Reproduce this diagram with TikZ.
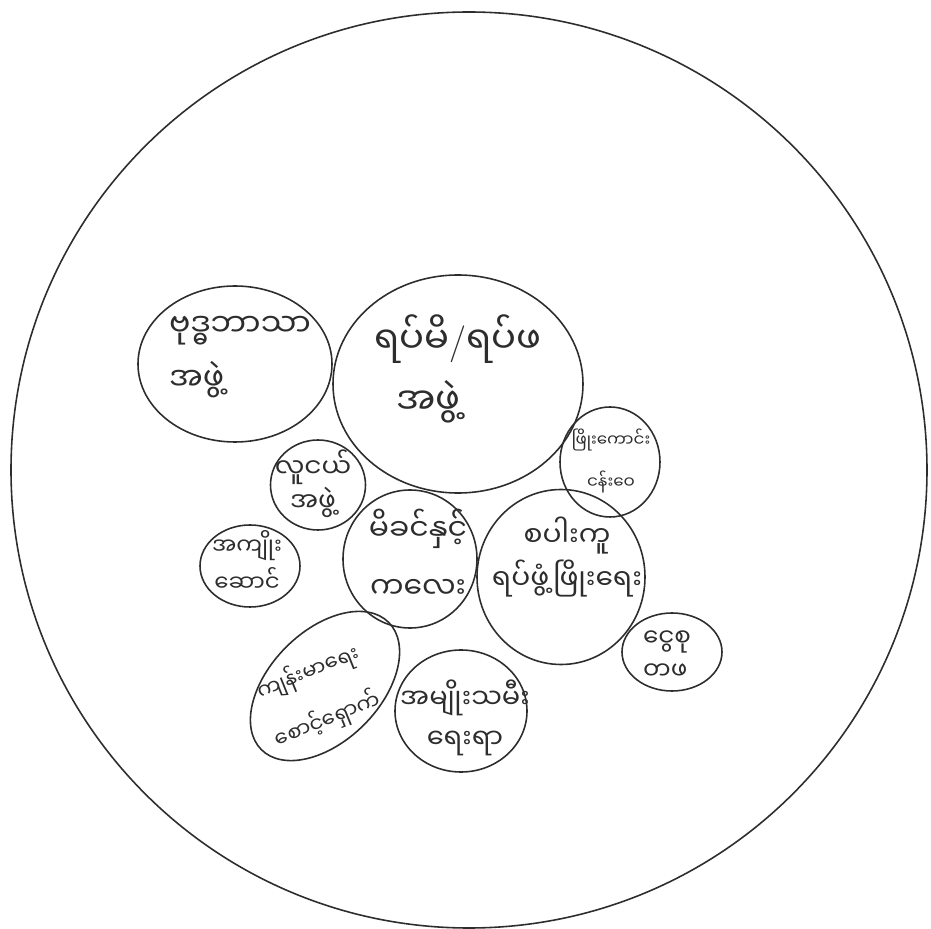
\documentclass[tikz,border=0pt]{standalone}
\usepackage{fontspec}
\usepackage{tikz}
\usetikzlibrary{shapes.geometric}
\newfontfamily\mmfont[Script=Myanmar]{Noto Sans Myanmar UI}
\definecolor{penline}{RGB}{45,45,45}

\begin{document}
\begin{tikzpicture}[x=0.02cm, y=-0.02cm,
    ring/.style={ellipse, draw=penline, line width=0.9pt, inner sep=0pt},
    dims/.style 2 args={minimum width=#1*0.02cm, minimum height=#2*0.02cm},
    hand/.style 2 args={font=\mmfont\fontsize{#1}{#2}\selectfont, text=penline, align=center, inner sep=0pt}
]
    \useasboundingbox (0,0) rectangle (931,929);

    % Village boundary
    \node[ring, circle, minimum size=916*0.02cm] (village) at (469,470) {};

    % Group outlines
    \node[ring, dims={194}{156}] (buddhist) at (235,364) {};
    \node[ring, dims={250}{218}] (elders) at (458,384) {};
    \node[ring, dims={100}{110}] (fund) at (610,462) {};
    \node[ring, dims={95}{90}] (youth) at (318,485) {};
    \node[ring, dims={100}{82}] (agent) at (250,566) {};
    \node[ring, dims={134}{138}] (mother) at (410,559) {};
    \node[ring, dims={168}{175}] (develop) at (561,577) {};
    \node[ring, dims={100}{78}] (saving) at (672,652) {};
    \node[ring, rotate=45, dims={180}{110}] (health) at (325,686) {};
    \node[ring, dims={132}{122}] (women) at (461,711) {};

    % Group names
    \node[hand={18}{31}, align=left] (buddhisttext) at (240,357) {ဗုဒ္ဓဘာသာ\\အဖွဲ့};
    \node[hand={21}{35}, align=left] (elderstext) at (458,369) {ရပ်မိ{\rmfamily/}ရပ်ဖ\\\hspace{0.6em}အဖွဲ့};
    \node[hand={9.5}{24}] (fundtext) at (611,461) {ဖြိုးကောင်း\\ငန်းဝေ};
    \node[hand={15}{18}] (youthtext) at (313,484) {လူငယ်\\အဖွဲ့};
    \node[hand={13}{21}] (agenttext) at (247,561) {အကျိုး\\ဆောင်};
    \node[hand={17}{33}] (mothertext) at (418,554) {မိခင်နှင့်\\ကလေး};
    \node[hand={16}{25}] (developtext) at (567,557) {စပါးကူ\\ရပ်ဖွံ့ဖြိုးရေး};
    \node[hand={14}{19}, align=left] (savingtext) at (667,655) {ငွေစု\\တဖ};
    \node[hand={12}{29}, rotate=22] (healthtext) at (318,696) {ကျန်းမာရေး\\စောင့်ရှောက်};
    \node[hand={15.5}{23}] (womentext) at (465,718) {အမျိုးသမီး\\ရေးရာ};
\end{tikzpicture}
\end{document}
